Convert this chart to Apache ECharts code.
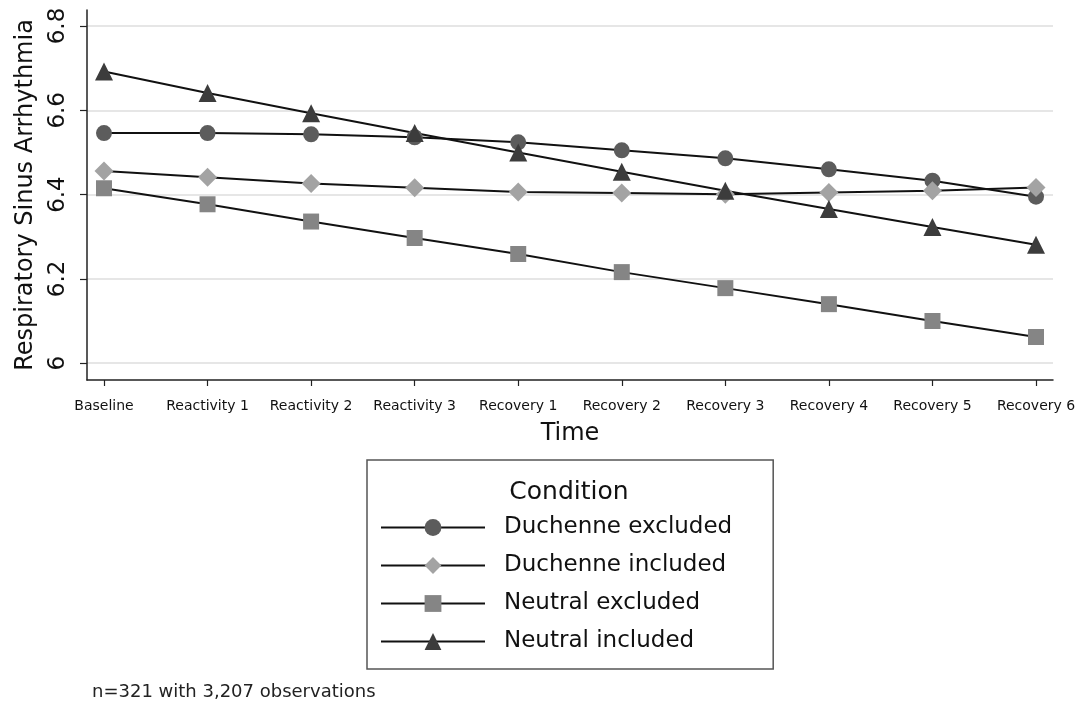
<!DOCTYPE html>
<html>
<head>
<meta charset="utf-8">
<script src="https://cdn.jsdelivr.net/npm/echarts@6/dist/echarts.min.js"></script>
<style>
html,body{margin:0;padding:0;background:#fff;}
#chart{width:1081px;height:706px;}
</style>
</head>
<body>
<div id="chart"></div>
<script>
const categories = ['Baseline','Reactivity 1','Reactivity 2','Reactivity 3','Recovery 1','Recovery 2','Recovery 3','Recovery 4','Recovery 5','Recovery 6'];
const duchenneExcluded = [6.546, 6.546, 6.543, 6.536, 6.524, 6.505, 6.486, 6.460, 6.433, 6.395];
const duchenneIncluded = [6.456, 6.441, 6.426, 6.416, 6.406, 6.404, 6.401, 6.405, 6.409, 6.417];
const neutralExcluded = [6.415, 6.377, 6.336, 6.297, 6.259, 6.216, 6.178, 6.140, 6.100, 6.062];
const neutralIncluded = [6.692, 6.641, 6.593, 6.546, 6.500, 6.454, 6.409, 6.366, 6.323, 6.281];
const yTicks = [6, 6.2, 6.4, 6.6, 6.8];
const yTickLabels = ['6', '6.2', '6.4', '6.6', '6.8'];
const xTickValues = [0,1,2,3,4,5,6,7,8,9];

const FONT = 'DejaVu Sans';
function pairs(arr){ return arr.map((v,i)=>[i,v]); }
function mkSeries(name, data, symbol, size, color){
  return {
    name, type:'line', data: pairs(data), symbol, symbolSize: size,
    itemStyle:{color: color},
    lineStyle:{color:'#111', width:2},
    emphasis:{disabled:true}
  };
}
const chart = echarts.init(document.getElementById('chart'), null, {renderer:'canvas'});
chart.setOption({
  animation:false,
  backgroundColor:'#fff',
  textStyle:{fontFamily:FONT},
  grid:{left:87, right:28, top:10, bottom:326, containLabel:false, outerBoundsMode:'none'},
  xAxis:{
    type:'value', min:-0.164, max:9.164,
    name:'Time', nameLocation:'middle', nameGap:42,
    nameTextStyle:{fontFamily:FONT, fontSize:24, color:'#111'},
    axisLine:{show:true, onZero:false, lineStyle:{color:'#222', width:1.5}},
    axisTick:{show:true, length:6, customValues:xTickValues, lineStyle:{color:'#222', width:1.2}},
    axisLabel:{customValues:xTickValues, margin:19, fontFamily:FONT, fontSize:14, color:'#111',
      formatter:(v)=>categories[Math.round(v)]},
    splitLine:{show:false}
  },
  yAxis:{
    type:'value', min:5.96, max:6.838,
    name:'Respiratory Sinus Arrhythmia', nameLocation:'middle', nameRotate:90, nameGap:49,
    nameTextStyle:{fontFamily:FONT, fontSize:24, color:'#111'},
    axisLine:{show:true, onZero:false, lineStyle:{color:'#222', width:1.5}},
    axisTick:{show:true, length:7, customValues:yTicks, lineStyle:{color:'#222', width:1.2}},
    axisLabel:{customValues:yTicks, rotate:90, margin:17, fontFamily:FONT, fontSize:23, color:'#111',
      formatter:(v)=>yTickLabels[yTicks.findIndex(t=>Math.abs(t-v)<1e-6)]},
    splitLine:{show:true, lineStyle:{color:'#e6e6e6', width:2}}
  },
  legend:{
    orient:'vertical', left:367, top:460,
    padding:[56,41,16,13],
    itemWidth:104, itemHeight:21, itemGap:15,
    borderColor:'#555', borderWidth:1.5,
    textStyle:{fontFamily:FONT, fontSize:23, color:'#111', padding:[0,0,0,14]},
    data:['Duchenne excluded','Duchenne included','Neutral excluded','Neutral included']
  },
  graphic:[
    {type:'text', x:569, y:492, style:{text:'Condition', fontFamily:FONT, fontSize:25, fill:'#111', align:'center', verticalAlign:'middle'}},
    {type:'text', x:92, y:692, style:{text:'n=321 with 3,207 observations', fontFamily:FONT, fontSize:18, fill:'#222', align:'left', verticalAlign:'middle'}}
  ],
  series:[
    mkSeries('Duchenne excluded', duchenneExcluded, 'circle', 16, '#5c5c5c'),
    mkSeries('Duchenne included', duchenneIncluded, 'diamond', 19, '#a3a3a3'),
    mkSeries('Neutral excluded', neutralExcluded, 'rect', 16, '#858585'),
    mkSeries('Neutral included', neutralIncluded, 'triangle', 18, '#3c3c3c')
  ]
});
</script>
</body>
</html>
